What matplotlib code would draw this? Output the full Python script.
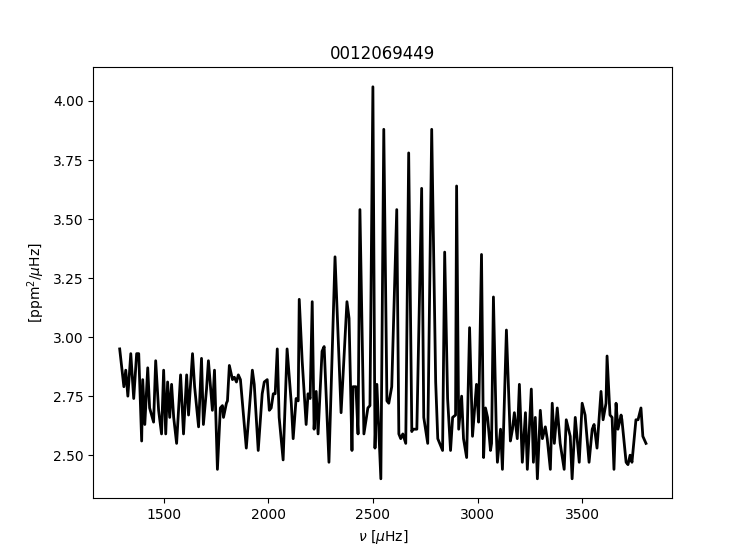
import matplotlib
matplotlib.use("Agg")
import matplotlib.pyplot as plt

title = "0012069449"
freq = [1290, 1310, 1319, 1329, 1343, 1357, 1371, 1381, 1395, 1400, 1410, 1424, 1433, 1452, 1462, 1476, 1490,
        1500, 1510, 1519, 1529, 1538, 1548, 1562, 1581, 1595, 1610, 1619, 1638, 1648, 1667, 1681, 1690, 1705,
        1714, 1733, 1743, 1757, 1771, 1781, 1786, 1800, 1805, 1814, 1829, 1838, 1848, 1857, 1867, 1895, 1924,
        1933, 1952, 1971, 1981, 1995, 2005, 2014, 2024, 2033, 2043, 2052, 2071, 2090, 2110, 2119, 2133, 2143,
        2148, 2162, 2181, 2190, 2200, 2210, 2219, 2229, 2238, 2257, 2267, 2290, 2319, 2348, 2376, 2386, 2400,
        2405, 2419, 2429, 2438, 2457, 2476, 2486, 2500, 2510, 2519, 2538, 2552, 2567, 2576, 2590, 2614, 2624,
        2633, 2643, 2657, 2671, 2686, 2690, 2700, 2710, 2733, 2743, 2762, 2781, 2800, 2810, 2833, 2843, 2857,
        2871, 2881, 2895, 2900, 2910, 2924, 2933, 2948, 2962, 2976, 2995, 3005, 3019, 3029, 3038, 3048, 3062,
        3067, 3076, 3090, 3095, 3110, 3119, 3138, 3157, 3167, 3176, 3190, 3200, 3214, 3229, 3238, 3257, 3267,
        3276, 3286, 3300, 3310, 3324, 3333, 3348, 3357, 3367, 3381, 3395, 3414, 3424, 3443, 3452, 3467, 3486,
        3500, 3514, 3533, 3548, 3557, 3571, 3590, 3600, 3614, 3619, 3633, 3643, 3652, 3662, 3671, 3686, 3690,
        3710, 3719, 3729, 3738, 3757, 3767, 3781, 3790, 3805]
power = [2.95, 2.79, 2.86, 2.75, 2.93, 2.74, 2.93, 2.93, 2.56, 2.82, 2.63, 2.87, 2.70, 2.64, 2.90, 2.69, 2.59,
         2.86, 2.59, 2.81, 2.66, 2.80, 2.66, 2.55, 2.84, 2.59, 2.84, 2.67, 2.93, 2.79, 2.62, 2.91, 2.63, 2.78,
         2.90, 2.69, 2.86, 2.44, 2.70, 2.71, 2.66, 2.72, 2.73, 2.88, 2.82, 2.83, 2.81, 2.84, 2.82, 2.53, 2.86,
         2.80, 2.52, 2.76, 2.81, 2.82, 2.69, 2.70, 2.76, 2.76, 2.95, 2.66, 2.48, 2.95, 2.72, 2.57, 2.74, 2.73,
         3.16, 2.90, 2.63, 2.76, 2.74, 3.15, 2.61, 2.77, 2.59, 2.94, 2.96, 2.47, 3.34, 2.68, 3.15, 3.08, 2.52,
         2.79, 2.79, 2.59, 3.54, 2.59, 2.70, 2.71, 4.06, 2.53, 2.80, 2.40, 3.88, 2.73, 2.72, 2.79, 3.54, 2.59,
         2.57, 2.59, 2.55, 3.78, 2.60, 2.61, 2.61, 2.61, 3.63, 2.66, 2.55, 3.88, 2.81, 2.57, 2.52, 3.36, 2.74,
         2.52, 2.66, 2.67, 3.64, 2.61, 2.75, 2.57, 2.49, 3.04, 2.58, 2.80, 2.64, 3.35, 2.49, 2.70, 2.66, 2.52,
         2.55, 3.17, 2.59, 2.47, 2.61, 2.44, 3.03, 2.56, 2.61, 2.68, 2.57, 2.80, 2.47, 2.68, 2.44, 2.78, 2.47,
         2.66, 2.40, 2.69, 2.57, 2.62, 2.57, 2.44, 2.72, 2.55, 2.70, 2.55, 2.44, 2.65, 2.58, 2.40, 2.66, 2.47,
         2.72, 2.67, 2.47, 2.61, 2.63, 2.53, 2.77, 2.65, 2.72, 2.92, 2.67, 2.66, 2.44, 2.72, 2.61, 2.67, 2.65,
         2.47, 2.46, 2.50, 2.47, 2.65, 2.65, 2.70, 2.58, 2.55]

fig, ax = plt.subplots(figsize=(7.47, 5.60), dpi=100)
ax.plot(freq, power, color="black", linewidth=2)
ax.set_title(title)
ax.set_xlabel(r"$\nu$ [$\mu$Hz]")
ax.set_ylabel(r"[ppm$^2$/$\mu$Hz]")
fig.savefig("out.png", dpi=100)
